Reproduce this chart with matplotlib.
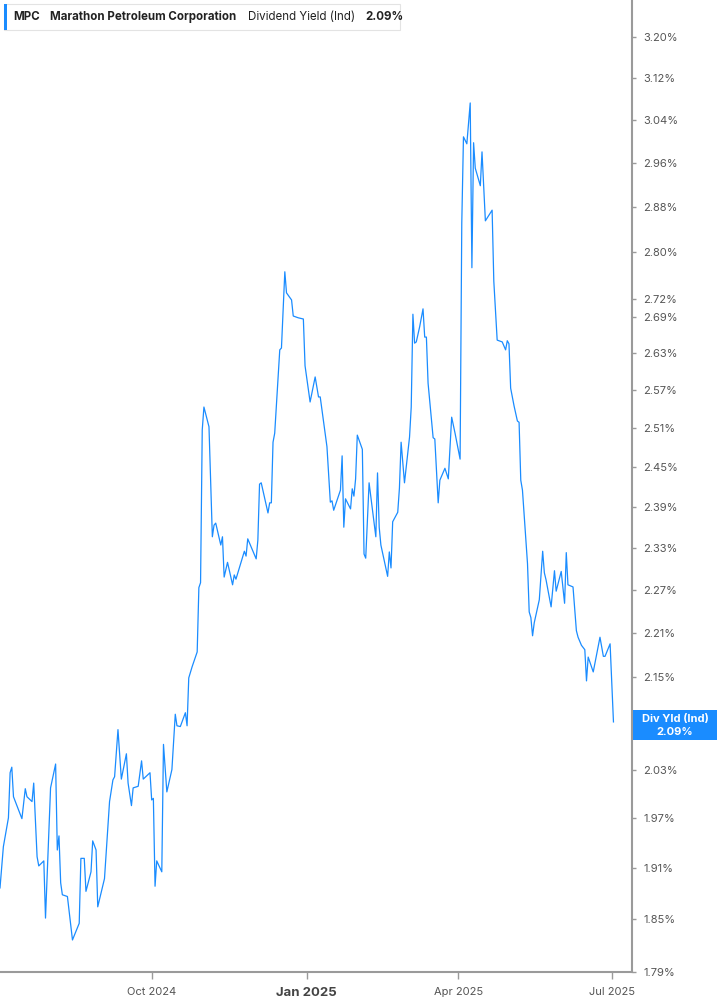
import numpy as np
import pandas as pd
import matplotlib
matplotlib.use("Agg")
import matplotlib.pyplot as plt
from matplotlib.ticker import FixedLocator, FuncFormatter, NullLocator
from matplotlib.patches import Rectangle
import matplotlib.dates as mdates

plt.rcParams["font.family"] = ["Inter", "DejaVu Sans"]

# dividend yield (%)
dates = [
    "2024-07-03", "2024-07-05", "2024-07-08", "2024-07-09", "2024-07-10", "2024-07-11",
    "2024-07-16", "2024-07-18", "2024-07-19", "2024-07-22", "2024-07-23", "2024-07-25",
    "2024-07-26", "2024-07-29", "2024-07-30", "2024-08-02", "2024-08-05", "2024-08-06",
    "2024-08-07", "2024-08-08", "2024-08-09", "2024-08-12", "2024-08-15", "2024-08-19",
    "2024-08-20", "2024-08-22", "2024-08-23", "2024-08-26", "2024-08-27", "2024-08-29",
    "2024-08-30", "2024-09-03", "2024-09-06", "2024-09-08", "2024-09-09", "2024-09-11",
    "2024-09-13", "2024-09-16", "2024-09-17", "2024-09-19", "2024-09-20", "2024-09-23",
    "2024-09-25", "2024-09-26", "2024-09-30", "2024-10-01", "2024-10-02", "2024-10-03",
    "2024-10-04", "2024-10-07", "2024-10-08", "2024-10-10", "2024-10-13", "2024-10-15",
    "2024-10-16", "2024-10-18", "2024-10-21", "2024-10-22", "2024-10-23", "2024-10-25",
    "2024-10-28", "2024-10-29", "2024-10-30", "2024-10-31", "2024-11-01", "2024-11-04",
    "2024-11-06", "2024-11-07", "2024-11-08", "2024-11-11", "2024-11-12", "2024-11-13",
    "2024-11-15", "2024-11-18", "2024-11-19", "2024-11-20", "2024-11-25", "2024-11-26",
    "2024-11-27", "2024-12-02", "2024-12-03", "2024-12-04", "2024-12-05", "2024-12-09",
    "2024-12-10", "2024-12-11", "2024-12-12", "2024-12-13", "2024-12-16", "2024-12-17",
    "2024-12-19", "2024-12-20", "2024-12-23", "2024-12-24", "2024-12-26", "2024-12-27",
    "2024-12-30", "2024-12-31", "2025-01-03", "2025-01-06", "2025-01-08", "2025-01-09",
    "2025-01-13", "2025-01-15", "2025-01-16", "2025-01-17", "2025-01-21", "2025-01-22",
    "2025-01-23", "2025-01-24", "2025-01-27", "2025-01-28", "2025-01-29", "2025-01-30",
    "2025-01-31", "2025-02-03", "2025-02-04", "2025-02-05", "2025-02-07", "2025-02-11",
    "2025-02-12", "2025-02-13", "2025-02-14", "2025-02-18", "2025-02-19", "2025-02-20",
    "2025-02-21", "2025-02-24", "2025-02-25", "2025-02-26", "2025-02-28", "2025-03-03",
    "2025-03-04", "2025-03-05", "2025-03-06", "2025-03-07", "2025-03-09", "2025-03-11",
    "2025-03-12", "2025-03-13", "2025-03-14", "2025-03-17", "2025-03-18", "2025-03-20",
    "2025-03-21", "2025-03-24", "2025-03-26", "2025-03-28", "2025-03-30", "2025-04-02",
    "2025-04-03", "2025-04-04", "2025-04-06", "2025-04-08", "2025-04-09", "2025-04-10",
    "2025-04-11", "2025-04-14", "2025-04-15", "2025-04-17", "2025-04-21", "2025-04-22",
    "2025-04-24", "2025-04-25", "2025-04-27", "2025-04-29", "2025-04-30", "2025-05-01",
    "2025-05-02", "2025-05-04", "2025-05-06", "2025-05-07", "2025-05-08", "2025-05-09",
    "2025-05-12", "2025-05-13", "2025-05-14", "2025-05-15", "2025-05-16", "2025-05-19",
    "2025-05-21", "2025-05-22", "2025-05-23", "2025-05-26", "2025-05-28", "2025-05-29",
    "2025-06-01", "2025-06-03", "2025-06-04", "2025-06-05", "2025-06-08", "2025-06-10",
    "2025-06-11", "2025-06-13", "2025-06-15", "2025-06-16", "2025-06-17", "2025-06-20",
    "2025-06-24", "2025-06-26", "2025-06-27", "2025-06-30", "2025-07-02",
]
div_yield = [
    1.886, 1.935, 1.970, 2.026, 2.033, 1.996,
    1.969, 2.006, 1.996, 1.990, 2.013, 1.923,
    1.912, 1.918, 1.851, 2.007, 2.037, 1.931,
    1.948, 1.892, 1.878, 1.876, 1.826, 1.845,
    1.921, 1.921, 1.882, 1.905, 1.942, 1.931,
    1.864, 1.897, 1.990, 2.017, 2.021, 2.081,
    2.018, 2.050, 2.013, 1.985, 2.007, 2.009,
    2.041, 2.018, 2.026, 1.992, 1.994, 1.888,
    1.918, 1.905, 2.062, 2.002, 2.030, 2.101,
    2.086, 2.085, 2.103, 2.086, 2.149, 2.164,
    2.184, 2.273, 2.280, 2.507, 2.543, 2.512,
    2.346, 2.363, 2.366, 2.334, 2.346, 2.288,
    2.309, 2.277, 2.291, 2.285, 2.325, 2.318,
    2.343, 2.314, 2.341, 2.424, 2.426, 2.381,
    2.396, 2.396, 2.488, 2.502, 2.635, 2.638,
    2.766, 2.730, 2.718, 2.691, 2.689, 2.688,
    2.686, 2.609, 2.551, 2.591, 2.559, 2.559,
    2.481, 2.397, 2.399, 2.385, 2.415, 2.467,
    2.360, 2.402, 2.387, 2.417, 2.406, 2.432,
    2.499, 2.477, 2.321, 2.315, 2.426, 2.346,
    2.441, 2.360, 2.334, 2.289, 2.324, 2.301,
    2.368, 2.382, 2.418, 2.488, 2.426, 2.496,
    2.543, 2.694, 2.646, 2.648, 2.673, 2.703,
    2.656, 2.656, 2.581, 2.495, 2.493, 2.396,
    2.430, 2.448, 2.432, 2.527, 2.502, 2.462,
    2.851, 3.008, 2.995, 3.072, 2.773, 2.997,
    2.950, 2.918, 2.980, 2.855, 2.874, 2.750,
    2.651, 2.650, 2.648, 2.635, 2.650, 2.645,
    2.573, 2.545, 2.521, 2.519, 2.430, 2.415,
    2.307, 2.239, 2.231, 2.206, 2.224, 2.256,
    2.325, 2.294, 2.284, 2.246, 2.297, 2.268,
    2.296, 2.251, 2.323, 2.277, 2.274, 2.213,
    2.204, 2.193, 2.187, 2.145, 2.177, 2.157,
    2.204, 2.178, 2.178, 2.195, 2.091,
]
y_ticks = [1.79, 1.85, 1.91, 1.97, 2.03, 2.15, 2.21, 2.27, 2.33, 2.39, 2.45,
           2.51, 2.57, 2.63, 2.69, 2.72, 2.80, 2.88, 2.96, 3.04, 3.12, 3.20]
x_ticks = ["2024-10-01", "2025-01-01", "2025-04-01", "2025-07-01"]
x_labels = ["Oct 2024", "Jan 2025", "Apr 2025", "Jul 2025"]

BLUE = "#1a8cff"
GREY = "#9a9a9a"
W, H = 717, 1005


def px(x, y):
    return x / W, 1 - y / H


fig = plt.figure(figsize=(W / 100, H / 100), dpi=100)
ax = fig.add_axes([0, 33 / H, 632 / W, 972 / H])

d = pd.to_datetime(dates)
ax.plot(d, div_yield, color=BLUE, lw=0.9)

ax.set_yscale("log")
ax.set_ylim(1.79, 3.275)
ax.set_xlim(pd.Timestamp("2024-07-03"), pd.Timestamp("2025-07-13"))

ax.yaxis.tick_right()
ax.yaxis.set_major_locator(FixedLocator(y_ticks))
ax.yaxis.set_minor_locator(NullLocator())
ax.yaxis.set_major_formatter(FuncFormatter(lambda v, p: f"{v:.2f}%"))
ax.tick_params(axis="y", length=3, width=1, color=GREY, pad=5,
               labelsize=8, labelcolor="#555555")

xt = pd.to_datetime(x_ticks)
ax.set_xticks(mdates.date2num(xt))
ax.set_xticklabels(x_labels)
ax.tick_params(axis="x", length=5, width=1, color=GREY, pad=6,
               labelsize=8, labelcolor="#555555")
for lbl in ax.get_xticklabels():
    if lbl.get_text().startswith("Jan"):
        lbl.set_fontweight("bold")
        lbl.set_fontsize(9.5)
        lbl.set_color("#444444")

for s in ["top", "left"]:
    ax.spines[s].set_visible(False)
for s in ["right", "bottom"]:
    ax.spines[s].set_color(GREY)
    ax.spines[s].set_linewidth(1.5)

# header box
x0, y0 = px(4, 30)
x1, y1 = px(400, 4)
fig.patches.append(Rectangle((x0, y0), x1 - x0, y1 - y0, transform=fig.transFigure,
                             facecolor="white", edgecolor="#e3e3e3", lw=0.8))
bx, by = px(4, 30)
fig.patches.append(Rectangle((bx, by), 3 / W, 26 / H, transform=fig.transFigure,
                             facecolor=BLUE, edgecolor="none"))
hy = px(0, 17)[1]
fig.text(13 / W, hy, "MPC", fontsize=8.3, fontweight="bold", color="#222222", va="center")
fig.text(50 / W, hy, "Marathon Petroleum Corporation", fontsize=8.3,
         fontweight="bold", color="#222222", va="center")
fig.text(248 / W, hy, "Dividend Yield (Ind)", fontsize=8.3, color="#222222", va="center")
fig.text(365 / W, hy, "2.09%", fontsize=8.3, fontweight="bold", color="#222222", va="center")

# last value tag
lx, ly = px(633, 740)
fig.patches.append(Rectangle((lx, ly), 84 / W, 30 / H, transform=fig.transFigure,
                             facecolor=BLUE, edgecolor="none"))
fig.text(675 / W, px(0, 719)[1], "Div Yld (Ind)", fontsize=8, fontweight="bold",
         color="white", ha="center", va="center")
fig.text(675 / W, px(0, 732)[1], f"{div_yield[-1]:.2f}%", fontsize=8, fontweight="bold",
         color="white", ha="center", va="center")

fig.savefig("out.png", dpi=100)
